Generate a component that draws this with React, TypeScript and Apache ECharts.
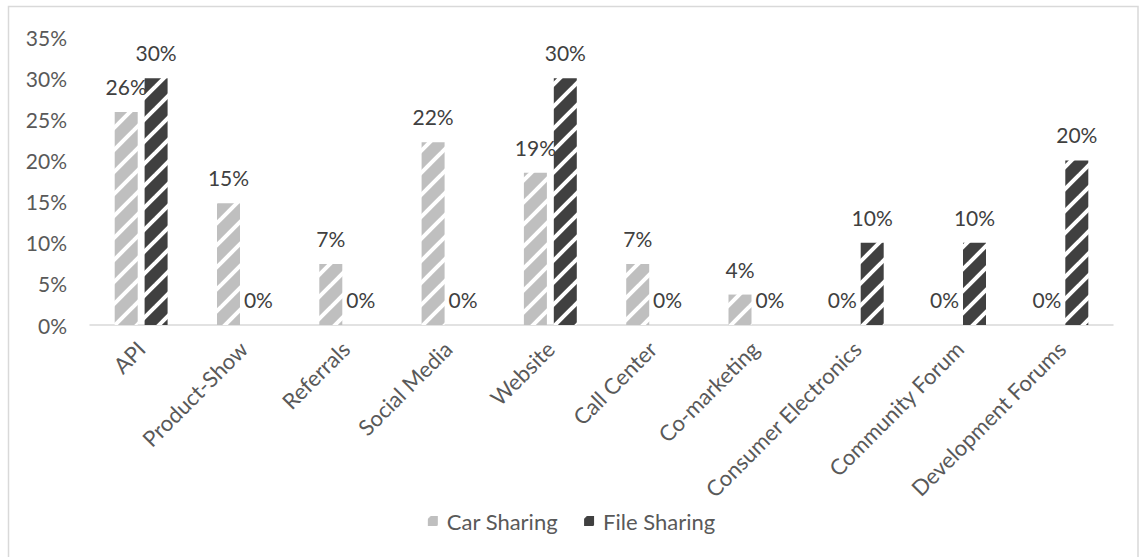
import React, { useEffect, useRef } from "react";
import * as echarts from "echarts";

const categories = [
  "API",
  "Product-Show",
  "Referrals",
  "Social Media",
  "Website",
  "Call Center",
  "Co-marketing",
  "Consumer Electronics",
  "Community Forum",
  "Development Forums",
];
const carSharing = [25.9, 14.8, 7.4, 22.2, 18.5, 7.4, 3.7, 0, 0, 0];
const fileSharing = [30, 0, 0, 0, 30, 0, 0, 10, 10, 20];
const seriesNames = ["Car Sharing", "File Sharing"];
const yTicks = { min: 0, max: 35, interval: 5 };

function makeHatch(color: string) {
  const P = 22;
  const c = document.createElement("canvas");
  c.width = P;
  c.height = P;
  const ctx = c.getContext("2d")!;
  ctx.fillStyle = color;
  ctx.fillRect(0, 0, P, P);
  ctx.strokeStyle = "#ffffff";
  ctx.lineWidth = 4;
  const lines = [
    [-2, P + 2, P + 2, -2],
    [-2, 2, 2, -2],
    [P - 2, P + 2, P + 2, P - 2],
  ];
  for (const [x1, y1, x2, y2] of lines) {
    ctx.beginPath();
    ctx.moveTo(x1, y1);
    ctx.lineTo(x2, y2);
    ctx.stroke();
  }
  return {
    image: c.toDataURL(),
    repeat: "repeat",
    imageWidth: P,
    imageHeight: P,
  } as any;
}

export default function App() {
  const ref = useRef<HTMLDivElement>(null);
  useEffect(() => {
    if (!ref.current) return;
    const chart = echarts.init(ref.current, null, { renderer: "svg" });
    const font = "Lato, 'Noto Sans', sans-serif";
    const labelStyle = {
      show: true,
      position: "top",
      distance: 15,
      color: "#404040",
      fontSize: 21,
      fontFamily: font,
      formatter: (p: any) => Math.round(p.value) + "%",
    };
    chart.setOption({
      animation: false,
      backgroundColor: "#ffffff",
      graphic: [
        {
          type: "rect",
          shape: { x: 8.5, y: 6.5, width: 1129.5, height: 560 },
          style: { fill: "none", stroke: "#d9d9d9", lineWidth: 1.5 },
          silent: true,
        },
      ],
      grid: { left: 90, right: 30, top: 37, bottom: 232 },
      legend: {
        bottom: 20,
        left: "center",
        itemWidth: 10,
        itemHeight: 10,
        itemGap: 26,
        icon: "rect",
        textStyle: {
          color: "#595959",
          fontSize: 22,
          fontFamily: font,
          padding: [0, 0, 0, 4],
        },
        data: seriesNames,
      },
      xAxis: {
        type: "category",
        data: categories,
        axisLine: { lineStyle: { color: "#d9d9d9", width: 1.5 } },
        axisTick: { show: false },
        axisLabel: {
          rotate: 45,
          interval: 0,
          margin: 20,
          color: "#595959",
          fontSize: 22,
          fontFamily: font,
        },
      },
      yAxis: {
        type: "value",
        min: yTicks.min,
        max: yTicks.max,
        interval: yTicks.interval,
        axisLine: { show: false },
        axisTick: { show: false },
        splitLine: { show: false },
        axisLabel: {
          margin: 23,
          color: "#595959",
          fontSize: 21,
          fontFamily: font,
          formatter: "{value}%",
        },
      },
      series: [
        {
          name: seriesNames[0],
          type: "bar",
          data: carSharing,
          barWidth: 23,
          barGap: "30%",
          itemStyle: { color: makeHatch("#bfbfbf") },
          label: labelStyle,
        },
        {
          name: seriesNames[1],
          type: "bar",
          data: fileSharing,
          barWidth: 23,
          barGap: "30%",
          itemStyle: { color: makeHatch("#404040") },
          label: labelStyle,
        },
      ],
    });
    return () => chart.dispose();
  }, []);
  return (
    <div
      ref={ref}
      style={{ position: "fixed", left: 0, top: 0, width: 1143, height: 557 }}
    />
  );
}
